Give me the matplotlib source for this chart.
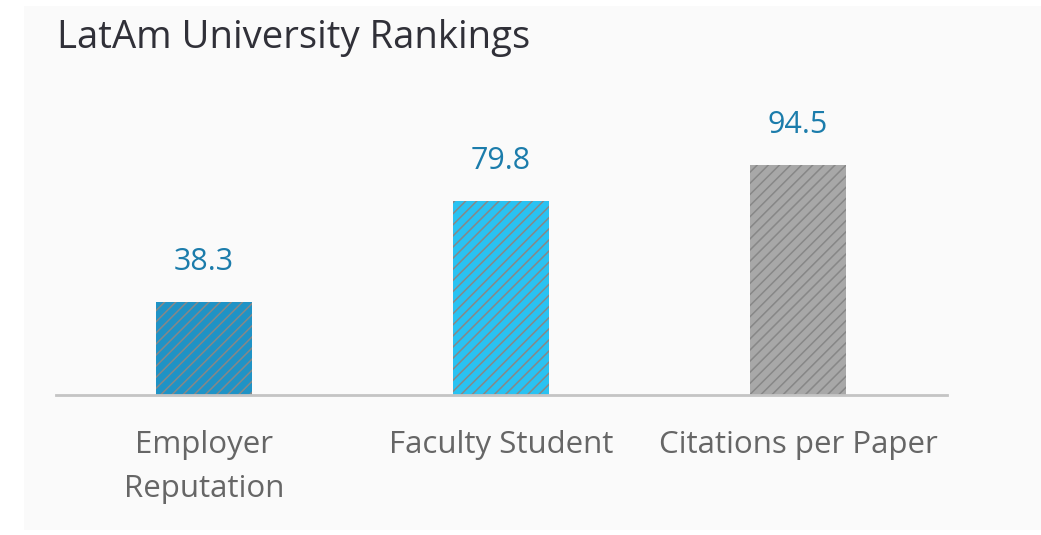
import matplotlib.pyplot as plt
from matplotlib.patches import Rectangle

categories = ["Employer\nReputation", "Faculty Student", "Citations per Paper"]
scores = [38.3, 79.8, 94.5]
bar_colors = ["#1f93c6", "#29c2f2", "#a8a8a8"]

plt.rcParams["font.family"] = ["Open Sans", "DejaVu Sans"]
plt.rcParams["hatch.linewidth"] = 1.1
plt.rcParams["hatch.color"] = "#878787"

fig = plt.figure(figsize=(10.41, 5.35), dpi=100)
fig.patch.set_facecolor("white")

# light card behind the chart
fig.patches.append(Rectangle((24 / 1041, 0.01), 1.0, 0.99 - 6 / 535,
                             transform=fig.transFigure, facecolor="#fafafa",
                             edgecolor="none", zorder=-1))

ax = fig.add_axes([55.5 / 1041, 140 / 535, 891 / 1041, 0.5004])
ax.set_facecolor("none")

x = range(len(categories))
bars = ax.bar(x, scores, width=0.323, color=bar_colors, edgecolor="#878787",
              linewidth=0, hatch="///")

for b, v in zip(bars, scores):
    ax.annotate(f"{v}", (b.get_x() + b.get_width() / 2, v),
                xytext=(0, 29), textcoords="offset points",
                ha="center", va="center", fontsize=22, color="#1b7cab")

ax.set_xlim(-0.5, 2.5)
ax.set_ylim(0, 110)
ax.set_xticks(list(x))
ax.set_xticklabels(categories, fontsize=22.5, color="#666666", linespacing=1.6)
ax.tick_params(axis="x", length=0, pad=25)
ax.set_yticks([])
for s in ["top", "right", "left"]:
    ax.spines[s].set_visible(False)
ax.spines["bottom"].set_color("#c4c4c4")
ax.spines["bottom"].set_linewidth(2)

fig.text(57 / 1041, 1 - 38 / 535, "LatAm University Rankings", fontsize=27.5,
         color="#303038", ha="left", va="center")

fig.savefig("out.png", dpi=100)
